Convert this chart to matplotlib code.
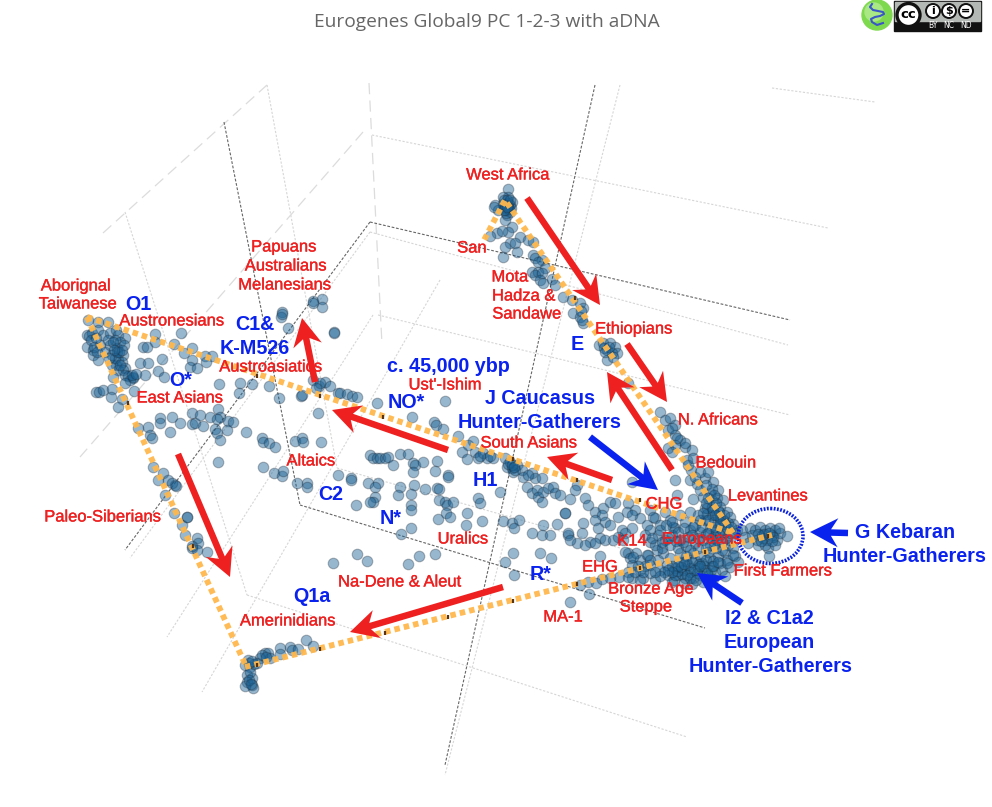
import matplotlib
matplotlib.use("Agg")
import matplotlib.pyplot as plt
import matplotlib.patheffects as pe
from matplotlib.patches import Circle, Ellipse, FancyArrow, Rectangle

WIDTH, HEIGHT = 992, 807

taiwan = [(88,320),(98,322),(108,322),(87,335),(92,333),(98,330),(103,335),(110,333),(116,330),(118,335),
          (125,338),(87,347),(93,350),(93,355),(100,345),(105,352),(110,345),(115,340),(117,348),(120,342),
          (124,345),(123,355),(118,360),(112,355),(116,365),(122,362),(125,368),(98,360),(112,365),(118,370),
          (123,370),(113,377),(125,375),(133,378),(128,376),(130,380),(125,383),(134,391),(133,377),(145,375),
          (89,336),(91,340),(96,338),(94,347),(97,352),(108,340),(113,342),(117,352),(115,358),(119,352),
          (122,350),(114,350),(109,358),(120,365),(132,375),(136,374)]
east_asia = [(155,334),(155,342),(174,344),(181,333),(143,347),(147,347),(184,353),(192,348),(192,360),(190,367),
             (197,368),(205,356),(212,356),(206,362),(162,359),(140,363),(148,363),(158,371),(164,377),(96,392),
             (99,392),(103,390),(112,389),(111,397),(122,399),(118,407),(219,384),(240,383),(252,384),(239,393),
             (269,386),(279,398),(301,396),(313,380),(319,386),(325,382),(330,386),(338,393),(318,413),(160,418),
             (160,423),(172,417),(180,423),(170,432),(192,413),(192,424),(195,423),(200,415),(203,426),(210,417),
             (218,409),(220,417),(217,419),(228,421),(233,422),(215,429),(217,433),(227,430),(220,440),(246,432),
             (262,438),(263,442),(269,443),(275,447),(295,441),(302,438),(303,442),(321,442),(138,428),(148,427),
             (150,435),(152,438),(320,383),(316,388)]
papuans = [(288,328),(282,312),(281,317),(313,301),(322,299),(322,307),(334,332),(282,314),(313,303),(334,333)]
siberia = [(158,480),(163,473),(168,480),(175,485),(165,495),(174,513),(187,517),(182,525),(185,535),(197,538),
           (198,543),(192,548),(197,550),(207,552),(172,483),(176,486),(153,467),(187,517),(192,546)]
americas = [(306,640),(313,646),(290,647),(292,650),(298,649),(280,648),(280,654),(265,653),(268,653),(260,658),
            (270,658),(257,663),(248,660),(245,665),(250,667),(247,675),(252,678),(247,682),(252,685),(253,688),
            (245,686),(262,655),(266,657),(250,672),(254,664),(249,663),(252,661),(249,680),(251,684)]
na_dene = [(218,462),(263,467),(274,473),(282,476),(283,471),(297,483),(307,483),(307,487),(338,475),(351,478),
           (351,480),(356,505),(357,554),(367,561),(333,563),(408,564),(419,556),(435,554),(401,534),(411,528)]
altai_ural = [(302,395),(340,393),(347,394),(352,396),(357,397),(377,403),(445,401),(412,417),(434,422),(436,425),
              (443,429),(368,483),(378,483),(375,487),(370,455),(373,458),(377,458),(380,458),(385,458),(388,457),
              (393,465),(400,454),(408,454),(413,463),(415,465),(413,472),(423,462),(437,461),(435,471),(448,475),
              (448,477),(400,487),(398,495),(414,485),(411,494),(425,489),(437,488),(439,489),(439,500),(445,502),
              (447,505),(453,502),(375,497),(373,502),(370,502),(411,505),(411,510),(438,519),(446,513),(450,517),
              (467,513),(466,525),(482,521),(478,498),(480,503),(500,492),(503,521),(512,523),(519,520),(514,528),
              (532,533),(543,525),(542,535),(550,535),(557,524),(565,513),(568,535),(540,553),(551,558),(513,553),
              (505,562)]
south_asia = [(458,436),(473,441),(468,445),(462,452),(467,459),(475,452),(478,458),(483,453),(487,458),(493,458),
              (505,458),(507,467),(512,468),(513,472),(517,465),(522,470),(523,477),(532,473),(535,478),(542,478),
              (527,487),(532,493),(537,490),(538,497),(543,492),(548,488),(553,487),(555,493),(560,495),(542,502),
              (480,456),(490,456),(510,462),(515,470),(528,475),(508,464),(512,465),(514,467)]
africa = [(508,189),(508,197),(503,197),(508,203),(512,202),(505,208),(510,212),(507,215),(495,205),(498,210),
          (505,220),(512,227),(508,232),(497,233),(490,236),(502,231),(520,237),(528,240),(533,242),(510,243),
          (505,247),(515,243),(517,252),(503,257),(533,255),(535,258),(542,260),(538,262),(545,268),(532,272),
          (538,272),(535,275),(542,273),(540,280),(543,283),(552,279),(555,285),(563,297),(572,300),(580,303),
          (573,313),(583,308),(580,317),(583,323),(504,200),(510,205),(506,210),(511,208),(503,204),(507,200),
          (505,205),(509,209),(506,213),(508,206),(504,210),(510,200),(507,207),(494,207),(581,311),(582,320)]
horn = [(599,345),(603,343),(610,343),(615,347),(617,353),(607,350),(612,353),(607,360),(613,357),(628,383),
        (604,348),(609,347),(605,352)]
north_africa = [(660,412),(665,420),(670,418),(675,425),(668,430),(675,435),(680,440),(685,447),(668,448),(675,445),
                (685,443),(692,450),(687,460),(672,452),(675,480),(677,495),(693,499),(632,482),(672,428),(677,438)]
caucasus = [(577,485),(575,490),(570,499),(565,513),(568,533),(583,523),(582,533),(585,498),(588,505),(595,512),
            (603,508),(602,515),(595,520),(605,522),(610,502),(615,503),(618,517),(628,503),(627,512),(635,510),
            (640,518),(632,515),(610,525),(598,528),(600,538),(590,542),(595,543),(577,543),(570,540),(585,545),
            (622,530),(625,533),(605,540),(613,540),(618,537),(623,540),(600,556),(628,553),(650,542),(632,528)]
steppe = [(625,552),(630,558),(632,565),(628,572),(636,553),(640,560),(640,570),(643,578),(632,578),(648,555),
          (650,565),(650,573),(655,580),(658,560),(660,570),(663,553),(667,565),(668,575),(672,582),(670,558),
          (675,568),(678,575),(680,562),(683,570),(685,578),(688,565),(690,572),(693,578),(695,560),(698,568),
          (700,575),(702,563),(705,570),(708,576),(710,558),(712,566),(715,572),(718,556),(720,563),(722,570),
          (725,552),(727,560),(730,567),(733,548),(735,556),(738,562),(728,545),(722,550),(716,548),(708,552),
          (700,556),(693,553),(686,556),(680,553),(674,580),(684,583),(692,584),(703,582),(713,579),(725,576),
          (675,575),(682,574),(690,568),(697,573),(704,566),(711,570),(686,561),(692,562),(699,564),(706,560),
          (713,561),(514,575),(570,602),(589,594),(580,585),(588,582),(596,583),(602,579),(619,577),(628,577),
          (640,580),(610,578),(633,557),(647,555),(657,550),(727,563),(733,555),(672,566),(677,571),(681,567),
          (687,575),(694,570),(700,566),(707,573),(713,566),(718,562),(690,578),(696,580),(678,566),(684,564),
          (672,572),(668,570),(664,572),(660,576),(655,572),(645,566),(638,566),(635,572),(643,572),(650,560)]
europe = [(650,510),(655,518),(660,525),(665,512),(670,520),(675,528),(680,515),(685,522),(690,530),(658,535),
          (665,540),(672,535),(680,540),(688,537),(695,525),(700,532),(705,520),(710,528),(715,535),(720,525),
          (725,532),(730,540),(695,543),(703,540),(710,545),(717,540),(655,545),(662,548),(670,545),(678,548),
          (686,546),(647,525),(645,535),(650,530),(690,512),(698,515),(705,508),(712,515),(718,510),(653,517),
          (673,527),(693,527),(660,530),(666,525),(672,522),(678,532),(684,528),(692,535),(698,538),(706,534),
          (712,538),(720,535),(726,538),(702,527),(708,533),(716,530),(722,542),(714,545),(706,548),(698,548),
          (690,550),(683,542),(676,541),(668,538),(662,542),(652,538),(700,520),(707,514),(714,522),(720,518)]
levant = [(691,470),(690,480),(697,484),(705,478),(713,482),(718,490),(710,493),(703,497),(717,498),(707,508),
          (703,513),(712,507),(723,500),(720,507),(727,512),(730,517),(733,524),(728,523),(723,520),(718,516),
          (708,520),(715,527),(722,530),(730,533),(737,530),(700,490),(695,477),(688,465),(693,458),(700,472),
          (708,472),(712,500),(716,503),(724,515),(735,533),(706,485),(712,489),(708,498),(714,495),(706,503),
          (713,510),(719,512),(725,524),(727,528),(720,522),(731,527),(715,515)]
farmers = [(742,530),(745,537),(750,528),(752,535),(755,530),(757,540),(760,527),(762,535),(765,530),(767,540),
           (770,528),(772,535),(775,530),(777,540),(780,533),(758,545),(768,548),(765,545),(775,545),(769,556),
           (787,536),(748,543),(773,537),(763,538),(779,528),(764,534),(769,533),(758,534),(772,541),(761,541)]
clusters = [taiwan, east_asia, papuans, siberia, americas, na_dene, altai_ural, south_asia,
            africa, horn, north_africa, caucasus, steppe, europe, levant, farmers]

# the orange outline through the populations
outline_upper = [(87,317),(733,533)]
outline_left = [(87,317),(245,664)]
outline_lower = [(245,667),(772,535)]
outline_right = [(733,533),(505,200),(483,242)]
outline_marks = [(257,376),(320,396),(128,403),(448,617),(513,601),(577,584),(320,649),(385,633),(577,480),
                 (640,500),(705,552),(640,568),(768,536),(383,417),(513,459),(575,298),(193,546),(257,665)]

# plot box lines: start, end
box_dark = [((224,122),(300,505)), ((300,505),(705,628)), ((370,222),(790,320)),
            ((370,222),(125,550)), ((595,85),(445,765))]
box_light_dot = [((620,85),(445,775)), ((772,88),(875,102)), ((372,135),(828,228)), ((370,232),(788,345)),
                 ((378,315),(790,415)), ((337,468),(620,548)), ((247,595),(687,737)), ((125,212),(247,595)),
                 ((267,85),(337,468)), ((370,232),(130,558)), ((373,315),(167,637)), ((440,280),(202,692))]
box_long_dash = [((369,83),(382,345)), ((103,233),(267,85)), ((363,132),(80,457))]

red_arrows = [((527,198),(600,305)), ((627,344),(667,402)), ((672,470),(607,372)), ((612,480),(547,457)),
              ((448,450),(332,410)), ((315,382),(302,318)), ((178,454),(230,577)), ((503,587),(350,632))]
blue_arrows = [((590,437),(658,490)), ((848,533),(810,532)), ((742,603),(697,573))]

red_labels = [("West Africa",508,175),("San",472,248),("Mota",510,277),("Hadza &",524,296),("Sandawe",527,314),
              ("Ethiopians",634,329),("Papuans",284,247),("Australians",286,266),("Melanesians",285,285),
              ("Aborignal",76,286),("Taiwanese",78,304),("Austronesians",172,321),("Austroasiatics",271,367),
              ("Ust'-Ishim",445,385),("East Asians",180,398),("South Asians",529,443),("N. Africans",718,420),
              ("Bedouin",726,463),("Levantines",768,496),("CHG",664,504),("Altaics",311,461),
              ("Paleo-Siberians",103,517),("Uralics",463,539),("K14",632,541),("Europeans",702,539),
              ("First Farmers",783,571),("EHG",600,567),("Bronze Age",651,589),("Steppe",646,607),
              ("Na-Dene & Aleut",400,582),("MA-1",563,617),("Amerinidians",288,621)]
blue_labels = [("O1",138,305),("C1&",255,324),("K-M526",255,349),("O*",181,381),("c. 45,000 ybp",448,366),
               ("J Caucasus",540,399),("Hunter-Gatherers",540,423),("NO*",406,402),("H1",485,480),("C2",331,495),
               ("N*",391,518),("E",577,344),("R*",541,575),("Q1a",312,596),("G Kebaran",905,533),
               ("Hunter-Gatherers",905,557),("I2 & C1a2",769,619),("European",769,643),("Hunter-Gatherers",771,667)]

fig = plt.figure(figsize=(WIDTH / 100, HEIGHT / 100), dpi=100)
ax = fig.add_axes([0, 0, 1, 1])
ax.set_xlim(0, WIDTH)
ax.set_ylim(HEIGHT, 0)
ax.axis("off")

# box and grid
for a, b in box_light_dot:
    ax.plot([a[0], b[0]], [a[1], b[1]], color="#d6d6d6", lw=0.8, ls=(0, (2, 1.5)), zorder=1)
for a, b in box_long_dash:
    ax.plot([a[0], b[0]], [a[1], b[1]], color="#dcdcdc", lw=0.9, ls=(0, (9, 5)), zorder=1)
for a, b in box_dark:
    ax.plot([a[0], b[0]], [a[1], b[1]], color="#666666", lw=0.8, ls=(0, (2.5, 1.5)), zorder=2)

# populations
for pts in clusters:
    xs, ys = zip(*pts)
    ax.scatter(xs, ys, s=58, facecolor=(0.1, 0.38, 0.58, 0.45), edgecolor=(0.1, 0.15, 0.2, 0.32),
               linewidth=0.8, zorder=3)

# orange outline
for line in (outline_upper, outline_left, outline_lower, outline_right):
    xs, ys = zip(*line)
    ax.plot(xs, ys, color="#ffb84d", lw=4.2, ls=(0, (0.95, 0.7)), alpha=0.95, zorder=4)
xs, ys = zip(*outline_marks)
ax.scatter(xs, ys, s=7, marker="|", color="#5a3410", linewidth=1.6, zorder=5)

# First Farmers ring
ax.add_patch(Ellipse((770.5, 536), 65, 55, fill=False, edgecolor="#0a22dd", lw=2.6, ls=(0, (0.5, 0.4)), zorder=6))


def draw_arrow(start, end, colour):
    ax.add_patch(FancyArrow(start[0], start[1], end[0] - start[0], end[1] - start[1], width=6.5, head_width=29,
                            head_length=28, length_includes_head=True, overhang=0.25, color=colour, lw=0, zorder=6))


for a, b in red_arrows:
    draw_arrow(a, b, "#ee2020")
for a, b in blue_arrows:
    draw_arrow(a, b, "#0a22ee")

for txt, x, y in red_labels:
    ax.text(x, y, txt, color="#ee2020", fontsize=11.9, family="Liberation Sans", ha="center", va="center", zorder=7,
            path_effects=[pe.withStroke(linewidth=0.25, foreground="#ee2020")])
for txt, x, y in blue_labels:
    ax.text(x, y, txt, color="#0a22ee", fontsize=14.2, fontweight="bold", family="Liberation Sans",
            ha="center", va="center", zorder=7)

ax.text(486.5, 22, "Eurogenes Global9 PC 1-2-3 with aDNA", color="#666666", fontsize=13.8, family="Open Sans",
        ha="center", va="center")

# licence badge top right
ax.add_patch(Circle((877, 15), 15, color="#7fd94f", zorder=8))
ax.add_patch(Circle((874, 12), 9, color="#a9e884", zorder=8))
squiggle_x = [872, 870, 873, 878, 883, 884, 880, 875, 871, 872, 877, 883]
squiggle_y = [4, 7, 10, 11, 12, 14, 16, 17, 19, 22, 25, 23]
ax.plot(squiggle_x, squiggle_y, color="#3a55c8", lw=1.5, zorder=9)
ax.add_patch(Rectangle((894, 1), 87, 30, color="#111111", zorder=8))
ax.add_patch(Rectangle((895, 2), 85, 19, color="#b4b8b4", zorder=8))
ax.add_patch(Circle((908.5, 15), 11.5, facecolor="white", edgecolor="#111111", lw=2.4, zorder=9))
ax.text(908.5, 15, "cc", fontsize=9.5, fontweight="bold", family="DejaVu Sans", ha="center", va="center", zorder=10)
for cx, sym, tag in [(933, "i", "BY"), (949, "$", "NC"), (966, "=", "ND")]:
    ax.add_patch(Circle((cx, 11), 7, facecolor="white", edgecolor="#111111", lw=1.4, zorder=9))
    ax.text(cx, 11, sym, fontsize=8, fontweight="bold", family="DejaVu Sans", ha="center", va="center", zorder=10,
            parse_math=False)
    ax.text(cx, 26, tag, fontsize=5.5, color="white", family="DejaVu Sans", ha="center", va="center", zorder=10)

fig.savefig("out.png", dpi=100)
